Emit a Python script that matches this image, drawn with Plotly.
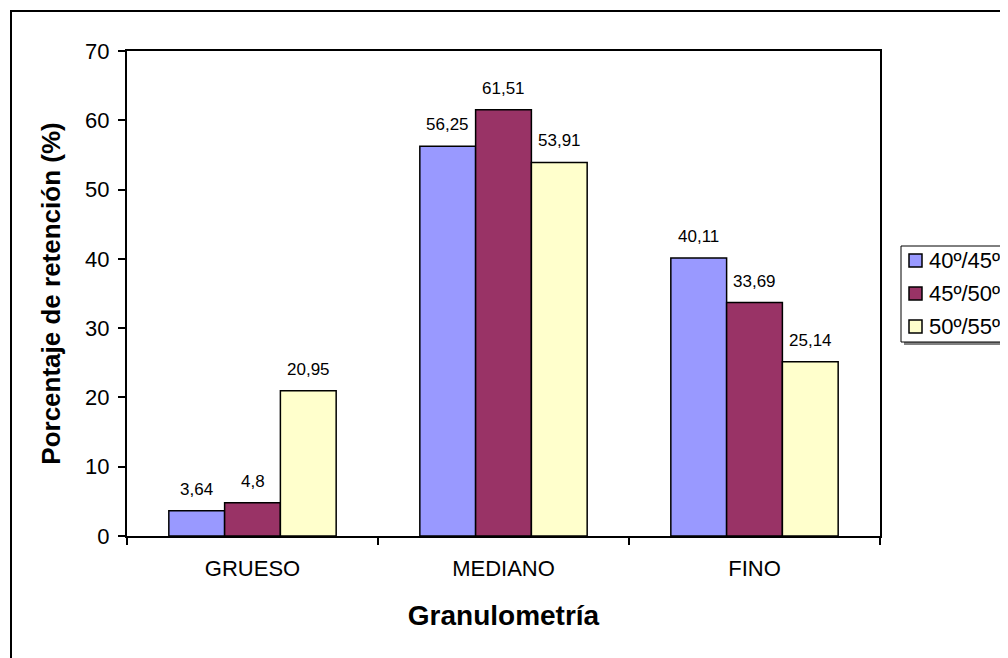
import plotly.graph_objects as go

categories = ["GRUESO", "MEDIANO", "FINO"]
series_names = ["40º/45º", "45º/50º", "50º/55º"]
values_40_45 = [3.64, 56.25, 40.11]
values_45_50 = [4.8, 61.51, 33.69]
values_50_55 = [20.95, 53.91, 25.14]
label_40_45 = ["3,64", "56,25", "40,11"]
label_45_50 = ["4,8", "61,51", "33,69"]
label_50_55 = ["20,95", "53,91", "25,14"]
y_ticks = [0, 10, 20, 30, 40, 50, 60, 70]

colors = ["#9999FF", "#993366", "#FFFFCC"]
FONT = "Liberation Sans, Arial, sans-serif"

all_values = [values_40_45, values_45_50, values_50_55]
all_labels = [label_40_45, label_45_50, label_50_55]

# plot area in figure pixels
L, R, T, B = 119, 872, 43, 528
W, H = 1008, 658
PW, PH = R - L, B - T


def px(xf):
    return (xf - L) / PW


def py(yf):
    return (B - yf) / PH


fig = go.Figure()
for name, vals, col in zip(series_names, all_values, colors):
    fig.add_trace(go.Bar(
        x=categories, y=vals, name=name, showlegend=False,
        marker=dict(color=col, line=dict(color="black", width=1.5)),
    ))

bargap = 1 / 3
bw = (1 - bargap) / 3
annotations = []
for j, (vals, labs) in enumerate(zip(all_values, all_labels)):
    for i, (v, lab) in enumerate(zip(vals, labs)):
        annotations.append(dict(
            x=i + (j - 1) * bw, y=v, xref="x", yref="y", text=lab,
            showarrow=False, yanchor="bottom", yshift=10,
            font=dict(family=FONT, size=17, color="black"),
        ))

shapes = [
    # outer chart frame
    dict(type="rect", xref="paper", yref="paper",
         x0=px(3), x1=px(1012), y0=py(662), y1=py(3),
         line=dict(color="black", width=2), fillcolor="rgba(0,0,0,0)", layer="below"),
]

# legend (drawn manually to match the original box geometry)
lg_left, lg_top, lg_bottom, lg_right = 893, 238, 334, 1012
shapes.append(dict(type="rect", xref="paper", yref="paper",
                   x0=px(lg_left + 3), x1=px(lg_right + 3),
                   y0=py(lg_bottom + 3), y1=py(lg_top + 3),
                   line=dict(width=0), fillcolor="#808080"))
shapes.append(dict(type="rect", xref="paper", yref="paper",
                   x0=px(lg_left), x1=px(lg_right), y0=py(lg_bottom), y1=py(lg_top),
                   line=dict(color="black", width=1), fillcolor="white"))
item_centers = [252.5, 285.5, 318.5]
for name, col, yc in zip(series_names, colors, item_centers):
    shapes.append(dict(type="rect", xref="paper", yref="paper",
                       x0=px(901), x1=px(914), y0=py(yc + 6.5), y1=py(yc - 6.5),
                       line=dict(color="black", width=1.5), fillcolor=col))
    annotations.append(dict(
        x=px(919), y=py(yc), xref="paper", yref="paper", text=name,
        showarrow=False, xanchor="left", yanchor="middle",
        font=dict(family=FONT, size=22, color="black"),
    ))

fig.update_layout(
    width=W, height=H,
    margin=dict(l=L, r=W - R, t=T, b=H - B),
    paper_bgcolor="white", plot_bgcolor="white",
    barmode="group", bargap=bargap, bargroupgap=0,
    font=dict(family=FONT, color="black"),
    showlegend=False,
    annotations=annotations,
    shapes=shapes,
)

fig.update_yaxes(
    range=[0, 70], tickvals=y_ticks, ticks="outside", ticklen=7,
    tickcolor="black", tickwidth=1.5, showline=True, linecolor="black", linewidth=2,
    mirror=True, showgrid=False, zeroline=False, ticklabelstandoff=4,
    tickfont=dict(family=FONT, size=22, color="black"),
    title=dict(text="<b>Porcentaje de retención (%)</b>",
               font=dict(family=FONT, size=26, color="black"), standoff=17),
)
fig.update_xaxes(
    tickson="boundaries", ticks="outside", ticklen=7, tickcolor="black", tickwidth=1.5,
    showline=True, linecolor="black", linewidth=2, mirror=True,
    showgrid=False, ticklabelstandoff=12,
    tickfont=dict(family=FONT, size=22, color="black"),
    title=dict(text="<b>Granulometría</b>",
               font=dict(family=FONT, size=28, color="black"), standoff=25),
)

fig.write_html("out.html")
